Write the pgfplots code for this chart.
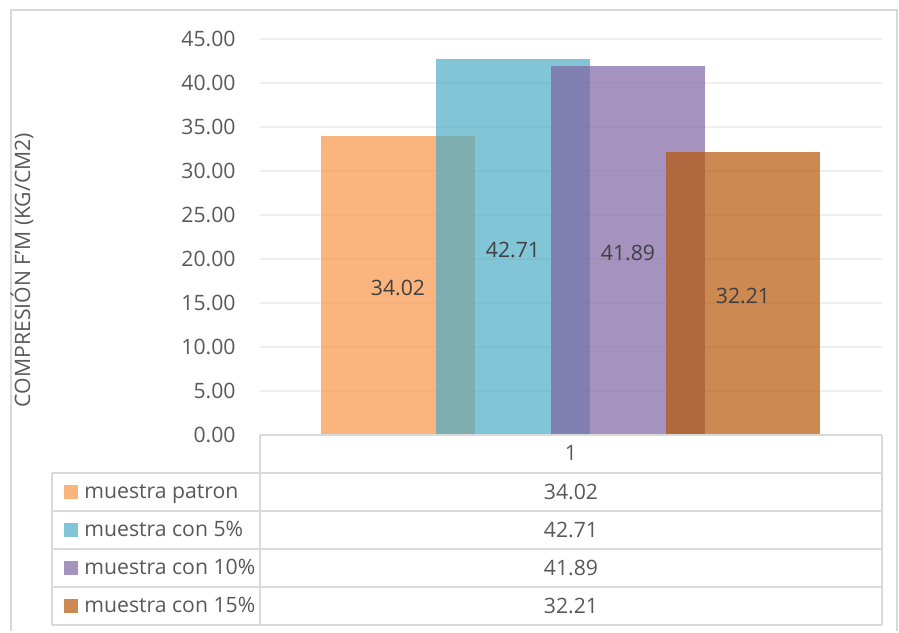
\documentclass[border=0pt]{standalone}
\usepackage{pgfplots}
\pgfplotsset{compat=1.18}
\usepackage{fontspec}
\setmainfont{Open Sans}
\definecolor{cOr}{HTML}{F79646}
\definecolor{cCy}{HTML}{4BACC6}
\definecolor{cPu}{HTML}{8064A2}
\definecolor{cBr}{HTML}{B65708}
\definecolor{txt}{HTML}{595959}
\definecolor{lbl}{HTML}{404040}
\definecolor{grd}{HTML}{EEEEEE}
\definecolor{bord}{HTML}{D9D9D9}
\newcommand{\fs}{\fontsize{10.6}{12.5}\selectfont}
\begin{document}
\begin{tikzpicture}[x=0.5pt,y=-0.5pt]
\path (0,0) rectangle (899,631);
\draw[bord, line width=1pt] (10.5,631) -- (10.5,9.5) -- (897,9.5) -- (897,631);
\begin{axis}[
  at={(130pt,-217.5pt)}, anchor=south west,
  scale only axis, width=311pt, height=198pt,
  xmin=-0.5, xmax=0.5, ymin=0, ymax=45,
  ytick={0,5,...,45}, xtick=\empty,
  axis line style={draw=none},
  major tick length=0pt,
  ymajorgrids, grid style={grd, line width=0.7pt},
  yticklabel style={anchor=east, inner sep=0pt, xshift=-12pt, font=\fs, text=txt,
     /pgf/number format/.cd, fixed, fixed zerofill, precision=2, assume math mode=true},
  clip=false,
  visualization depends on={rawy/2 \as \myhalf},
  nodes near coords={\pgfmathprintnumber[fixed,fixed zerofill,precision=2,assume math mode=true]{\pgfplotspointmeta}},
  every node near coord/.append style={anchor=center, font=\fs, text=lbl, fill opacity=1, text opacity=1,
     shift={(axis direction cs:0,-\myhalf)}, yshift=-1.2pt},
]
\addplot[ybar, bar width=77pt, bar shift=-86.5pt, fill=cOr, fill opacity=0.7, draw=none,
  every node near coord/.append style={xshift=-86.5pt}] coordinates {(0,34.02)};
\addplot[ybar, bar width=77pt, bar shift=-29pt, fill=cCy, fill opacity=0.7, draw=none,
  every node near coord/.append style={xshift=-29pt}] coordinates {(0,42.71)};
\addplot[ybar, bar width=77pt, bar shift=28.5pt, fill=cPu, fill opacity=0.7, draw=none,
  every node near coord/.append style={xshift=28.5pt}] coordinates {(0,41.89)};
\addplot[ybar, bar width=77pt, bar shift=86pt, fill=cBr, fill opacity=0.7, draw=none,
  every node near coord/.append style={xshift=86pt}] coordinates {(0,32.21)};
\end{axis}
% y label
\node[rotate=90, font=\fs, text=txt] at (22,270) {COMPRESIÓN F'M (KG/CM2)};
% data table
\begin{scope}[bord, line width=1pt]
  \draw (260,435) -- (882,435);
  \draw (52,472.5) -- (882,472.5);
  \draw (52,510.5) -- (882,510.5);
  \draw (52,548.5) -- (882,548.5);
  \draw (52,586.5) -- (882,586.5);
  \draw (52,625) -- (882,625);
  \draw (260,435) -- (260,625);
  \draw (882,435) -- (882,625);
  \draw (52,472.5) -- (52,625);
\end{scope}
\node[font=\fs, text=txt] at (571,453) {1};
\node[font=\fs, text=txt] at (571,491.5) {34.02};
\node[font=\fs, text=txt] at (571,529.5) {42.71};
\node[font=\fs, text=txt] at (571,567.5) {41.89};
\node[font=\fs, text=txt] at (571,605.5) {32.21};
\fill[cOr, opacity=0.7] (64,484.5) rectangle (78,498.5);
\fill[cCy, opacity=0.7] (64,522.5) rectangle (78,536.5);
\fill[cPu, opacity=0.7] (64,560.5) rectangle (78,574.5);
\fill[cBr, opacity=0.7] (64,598.5) rectangle (78,612.5);
\node[font=\fs, text=txt, anchor=base west, inner sep=0pt] at (84,498) {muestra patron};
\node[font=\fs, text=txt, anchor=base west, inner sep=0pt] at (84,536) {muestra con 5\%};
\node[font=\fs, text=txt, anchor=base west, inner sep=0pt] at (84,574) {muestra con 10\%};
\node[font=\fs, text=txt, anchor=base west, inner sep=0pt] at (84,612) {muestra con 15\%};
\end{tikzpicture}
\end{document}
